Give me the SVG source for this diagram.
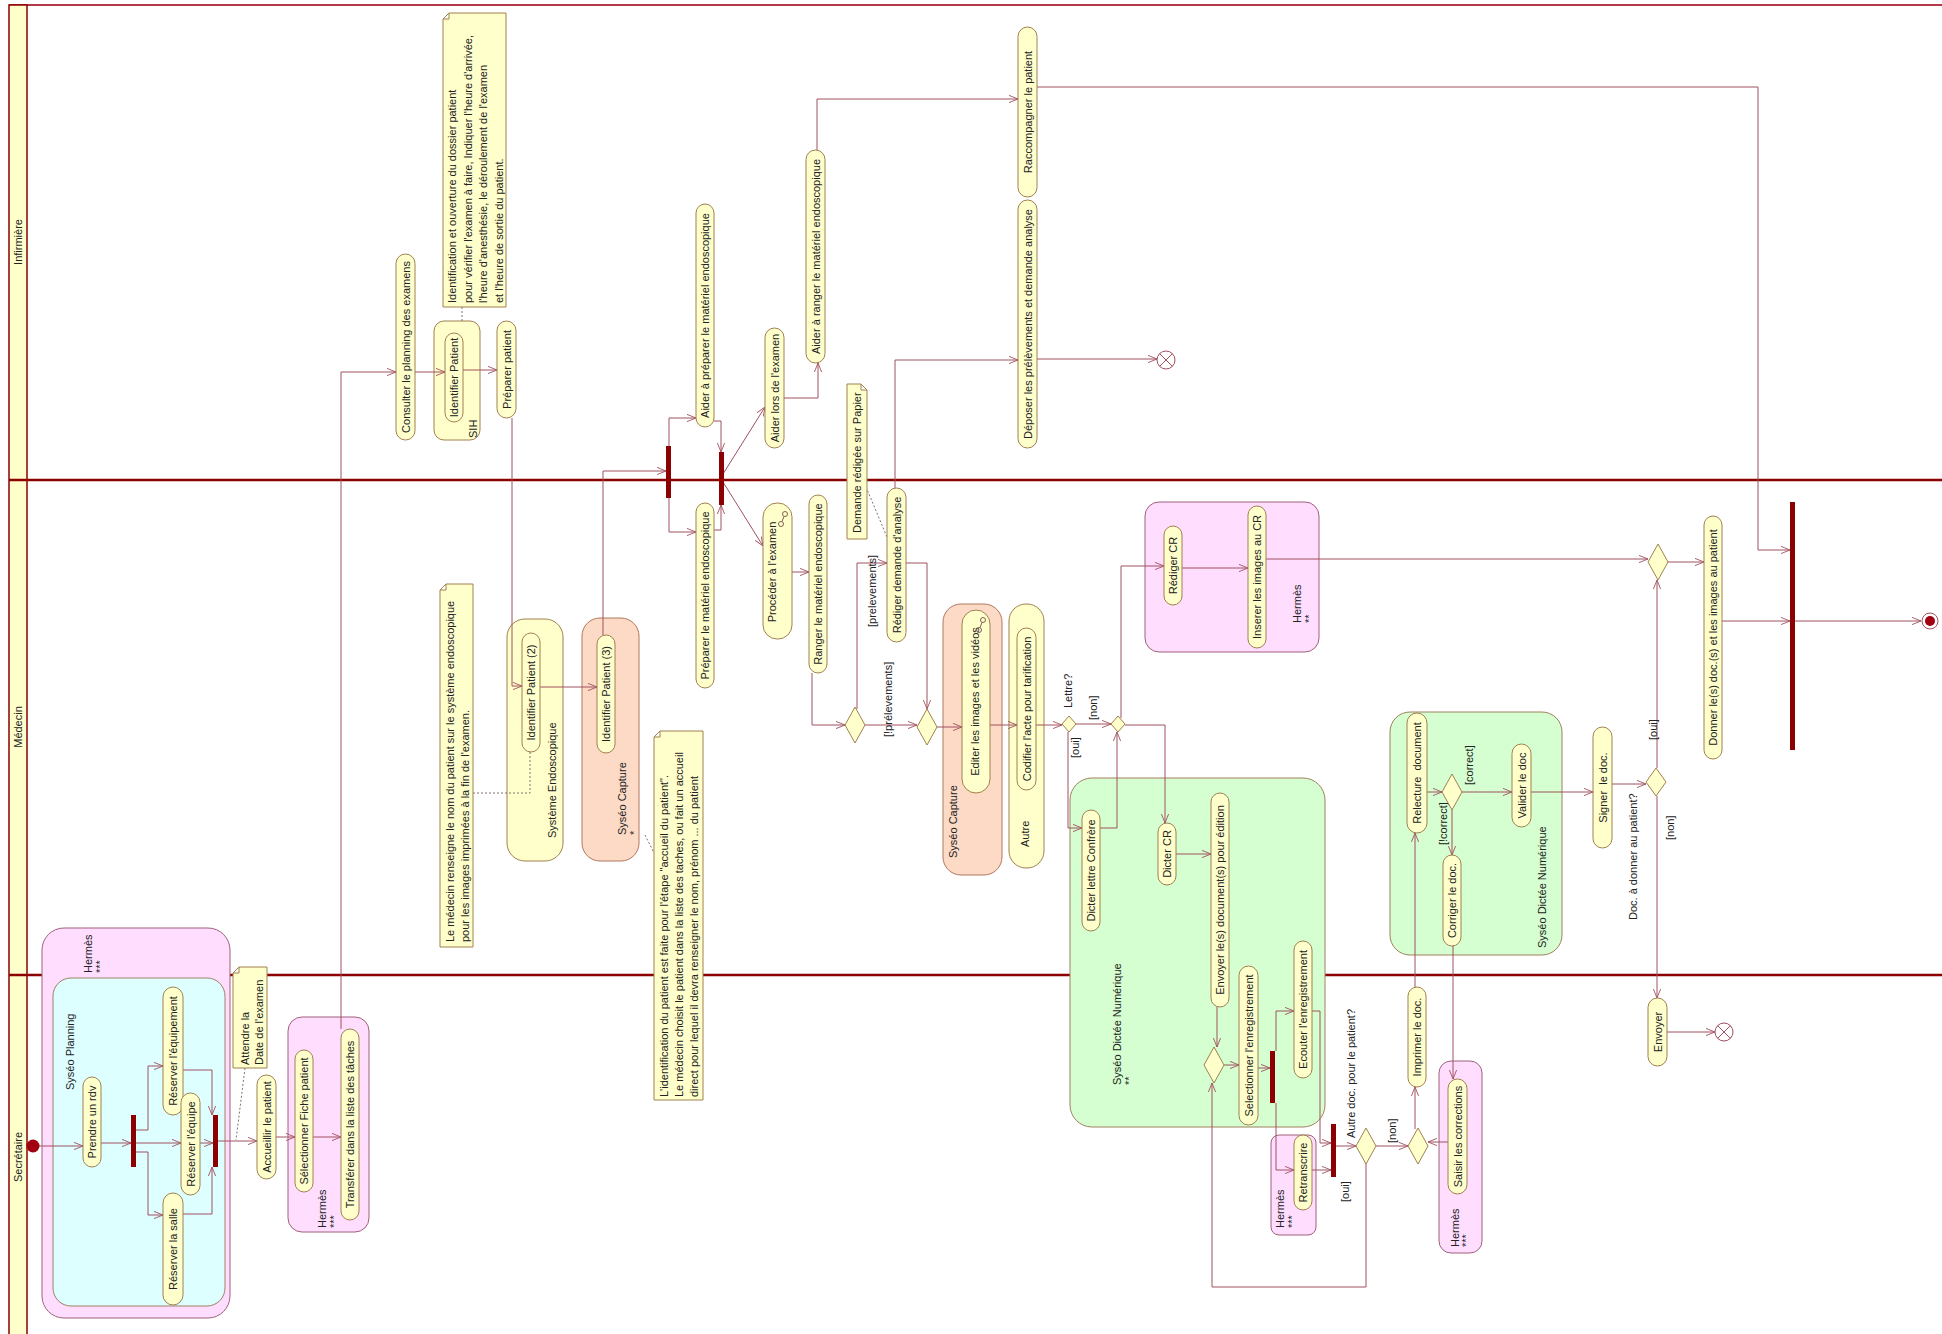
<svg xmlns="http://www.w3.org/2000/svg" width="1942" height="1334" viewBox="0 0 1942 1334">
<defs>
<style>
.t{font-family:"Liberation Sans",Arial,sans-serif;font-size:11px;fill:#222}
.tc{text-anchor:middle;dominant-baseline:central}
.ts{text-anchor:start;dominant-baseline:central}
.a{fill:#FFFFCC;stroke:#A08050;stroke-width:1}
.note{fill:#FFFFCC;stroke:#A08050;stroke-width:1}
.dia{fill:#FFFFCC;stroke:#A08050;stroke-width:1}
.bar{fill:#8B0000}
.c{fill:none;stroke:#A0505F;stroke-width:1;marker-end:url(#arr)}
.d{fill:none;stroke:#807070;stroke-width:1;stroke-dasharray:2 2}
.pink{fill:#FFDDFF;stroke:#A0607A;stroke-width:1}
.cyan{fill:#DDFFFF;stroke:#A08060;stroke-width:1}
.green{fill:#D5FFD0;stroke:#A08060;stroke-width:1}
.peach{fill:#FCDAC6;stroke:#B07860;stroke-width:1}
.yel{fill:#FFFFCC;stroke:#A08050;stroke-width:1}
.lane{stroke:#8B0000;stroke-width:2.5}
.ff{fill:#fff;stroke:#A0505F;stroke-width:1}
</style>
<marker id="arr" viewBox="0 0 10 10" refX="10" refY="5" markerWidth="9" markerHeight="9" orient="auto" markerUnits="userSpaceOnUse">
<path d="M0,1 L10,5 L0,9" fill="none" stroke="#A0505F" stroke-width="1"/>
</marker>
<g id="rake"><circle cx="0" cy="-5" r="2.5" fill="none" stroke="#806050" stroke-width="1"/><circle cx="-4" cy="5" r="2.5" fill="none" stroke="#806050" stroke-width="1"/><path d="M-1,-2.5 L-3,2.5" stroke="#806050" stroke-width="1"/></g>
</defs>

<!-- swimlanes -->
<g id="lanes">
<rect x="0" y="0" width="1942" height="1334" fill="#fff"/>
<line x1="9" y1="5" x2="1942" y2="5" stroke="#B03A4A" stroke-width="2"/>
<rect x="9" y="5" width="18" height="1335" fill="#FFFFCC" stroke="#8B0000" stroke-width="1.5"/>
<line class="lane" x1="9" y1="480" x2="1942" y2="480"/>
<line class="lane" x1="9" y1="975" x2="1942" y2="975"/>
<text class="t tc" transform="translate(18 242) rotate(-90)">Infirmière</text>
<text class="t tc" transform="translate(18 727) rotate(-90)">Médecin</text>
<text class="t tc" transform="translate(18 1157) rotate(-90)">Secrétaire</text>
</g>

<!-- containers -->
<g id="cont-hermes-sec"><rect class="pink" x="42" y="928" width="188" height="390" rx="22"/>
<text class="t ts" transform="translate(88 973) rotate(-90)">Hermès</text><text class="t ts" transform="translate(100 973) rotate(-90)">***</text></g>
<g id="cont-planning"><rect class="cyan" x="53" y="978" width="172" height="328" rx="18"/>
<text class="t ts" transform="translate(70 1090) rotate(-90)">Syséo Planning</text></g>
<g id="cont-hermes-sel"><rect class="pink" x="288" y="1017" width="81" height="215" rx="14"/>
<text class="t ts" transform="translate(322 1228) rotate(-90)">Hermès</text><text class="t ts" transform="translate(334 1228) rotate(-90)">***</text></g>
<g id="cont-sih"><rect class="yel" x="434" y="321" width="46" height="119" rx="10"/>
<text class="t ts" transform="translate(473 438) rotate(-90)">SIH</text></g>
<g id="cont-endo"><rect class="yel" x="507" y="619" width="56" height="242" rx="18"/>
<text class="t ts" transform="translate(552 838) rotate(-90)">Système Endoscopique</text></g>
<g id="cont-capture1"><rect class="peach" x="582" y="618" width="57" height="243" rx="18"/>
<text class="t ts" transform="translate(622 835) rotate(-90)">Syséo Capture</text><text class="t ts" transform="translate(634 835) rotate(-90)">*</text></g>
<g id="cont-capture2"><rect class="peach" x="943" y="604" width="59" height="271" rx="18"/>
<text class="t ts" transform="translate(953 858) rotate(-90)">Syséo Capture</text></g>
<g id="cont-autre"><rect class="yel" x="1009" y="604" width="35" height="264" rx="17"/>
<text class="t ts" transform="translate(1025 847) rotate(-90)">Autre</text></g>
<g id="cont-hermes-cr"><rect class="pink" x="1145" y="502" width="174" height="150" rx="14"/>
<text class="t ts" transform="translate(1297 623) rotate(-90)">Hermès</text><text class="t ts" transform="translate(1309 623) rotate(-90)">**</text></g>
<g id="cont-dictee1"><rect class="green" x="1070" y="778" width="255" height="349" rx="22"/>
<text class="t ts" transform="translate(1117 1085) rotate(-90)">Syséo Dictée Numérique</text><text class="t ts" transform="translate(1129 1085) rotate(-90)">**</text></g>
<g id="cont-hermes-retr"><rect class="pink" x="1271" y="1135" width="45" height="100" rx="8"/>
<text class="t ts" transform="translate(1280 1228) rotate(-90)">Hermès</text><text class="t ts" transform="translate(1292 1228) rotate(-90)">***</text></g>
<g id="cont-dictee2"><rect class="green" x="1390" y="712" width="172" height="243" rx="20"/>
<text class="t ts" transform="translate(1542 948) rotate(-90)">Syséo Dictée Numérique</text></g>
<g id="cont-hermes-saisir"><rect class="pink" x="1439" y="1061" width="43" height="192" rx="12"/>
<text class="t ts" transform="translate(1455 1247) rotate(-90)">Hermès</text><text class="t ts" transform="translate(1466 1247) rotate(-90)">***</text></g>

<!-- connectors -->
<g id="connectors">
<path class="c" d="M341,1029 V372 H396"/>
<path class="c" d="M415,372 H445"/>
<path class="c" d="M463,370 H497"/>
<path class="c" d="M512,418 V686 H522"/>
<path class="c" d="M540,687 H597"/>
<path class="c" d="M603,635 V471 H666"/>
<path class="c" d="M669,446 V418 H696"/>
<path class="c" d="M669,498 V532 H696"/>
<path class="c" d="M714,421 H721 V452"/>
<path class="c" d="M714,530 H721 V505"/>
<path class="c" d="M723,474 L765,407"/>
<path class="c" d="M723,482 L763,546"/>
<path class="c" d="M784,398 H818 V363"/>
<path class="c" d="M817,150 V99 H1018"/>
<path class="c" d="M792,572 H809"/>
<path class="c" d="M812,673 V725 H845"/>
<path class="c" d="M857,709 V563 H887"/>
<path class="c" d="M865,725 H917"/>
<path class="c" d="M906,563 H927 V709"/>
<path class="c" d="M895,488 V360 H1018"/>
<path class="c" d="M937,727 H962"/>
<path class="c" d="M1037,359 H1157"/>
<path class="c" d="M1037,87 H1758 V550 H1790"/>
<path class="c" d="M990,725 H1017"/>
<path class="c" d="M1036,725 H1062"/>
<path class="c" d="M1076,724 H1111"/>
<path class="c" d="M1068,732 V828 H1082"/>
<path class="c" d="M1100,828 H1117 V732"/>
<path class="c" d="M1121,718 V566 H1164"/>
<path class="c" d="M1125,725 H1165 V823"/>
<path class="c" d="M1182,568 H1248"/>
<path class="c" d="M1266,559 H1648"/>
<path class="c" d="M1176,854 H1211"/>
<path class="c" d="M1217,1007 V1047"/>
<path class="c" d="M1224,1065 H1239"/>
<path class="c" d="M1258,1068 H1270"/>
<path class="c" d="M1276,1051 V1011 H1294"/>
<path class="c" d="M1276,1103 V1170 H1294"/>
<path class="c" d="M1312,1011 H1320 V1143 H1331"/>
<path class="c" d="M1312,1170 H1331"/>
<path class="c" d="M1335,1146 H1356"/>
<path class="c" d="M1366,1164 V1287 H1212 V1083"/>
<path class="c" d="M1376,1146 H1408"/>
<path class="c" d="M1415,1129 V1087"/>
<path class="c" d="M1415,987 V833"/>
<path class="c" d="M1427,792 H1442"/>
<path class="c" d="M1462,792 H1512"/>
<path class="c" d="M1452,810 V855"/>
<path class="c" d="M1453,946 V1079"/>
<path class="c" d="M1448,1142 H1428"/>
<path class="c" d="M1531,792 H1593"/>
<path class="c" d="M1612,784 H1646"/>
<path class="c" d="M1657,768 V580"/>
<path class="c" d="M1657,796 V998"/>
<path class="c" d="M1667,1032 H1715"/>
<path class="c" d="M1668,562 H1704"/>
<path class="c" d="M1722,621 H1790"/>
<path class="c" d="M1795,621 H1921"/>
<path class="c" d="M39,1146 H83"/>
<path class="c" d="M101,1143 H131"/>
<path class="c" d="M136,1130 H148 V1066 H163"/>
<path class="c" d="M136,1143 H181"/>
<path class="c" d="M136,1152 H148 V1215 H163"/>
<path class="c" d="M183,1070 H212 V1115"/>
<path class="c" d="M200,1143 H213"/>
<path class="c" d="M183,1214 H212 V1167"/>
<path class="c" d="M218,1141 H257"/>
<path class="c" d="M276,1137 H295"/>
<path class="c" d="M313,1137 H341"/>
<path class="d" d="M462,307 V321"/>
<path class="d" d="M473,793 H530 V752"/>
<path class="d" d="M645,835 L654,853"/>
<path class="d" d="M866,487 L887,537"/>
<path class="d" d="M245,1068 L236,1140"/>
</g>

<!-- guard labels -->
<g id="guards">
<text class="t ts" transform="translate(872 627) rotate(-90)">[prelevements]</text>
<text class="t ts" transform="translate(888 737) rotate(-90)">[!prélevements]</text>
<text class="t ts" transform="translate(1068 708) rotate(-90)">Lettre?</text>
<text class="t ts" transform="translate(1093 720) rotate(-90)">[non]</text>
<text class="t ts" transform="translate(1075 758) rotate(-90)">[oui]</text>
<text class="t ts" transform="translate(1469 785) rotate(-90)">[correct]</text>
<text class="t ts" transform="translate(1443 845) rotate(-90)">[!correct]</text>
<text class="t ts" transform="translate(1653 740) rotate(-90)">[oui]</text>
<text class="t ts" transform="translate(1670 840) rotate(-90)">[non]</text>
<text class="t ts" transform="translate(1633 920) rotate(-90)">Doc. à donner au patient?</text>
<text class="t ts" transform="translate(1351 1138) rotate(-90)">Autre doc. pour le patient?</text>
<text class="t ts" transform="translate(1345 1202) rotate(-90)">[oui]</text>
<text class="t ts" transform="translate(1392 1143) rotate(-90)">[non]</text>
</g>

<!-- notes -->
<g id="note-dossier"><path class="note" d="M449,13 H506 V307 H443 V19 Z M443,19 L449,19 L449,13"/>
<text class="t ts" transform="translate(452 303) rotate(-90)"><tspan x="0" dy="0">Identification et ouverture du dossier patient</tspan><tspan x="0" dy="15.5">pour vérifier l'examen à faire, Indiquer l'heure d'arrivée,</tspan><tspan x="0" dy="15.5">l'heure d'anesthésie, le déroulement de l'examen</tspan><tspan x="0" dy="15.5">et l'heure de sortie du patient.</tspan></text></g>
<g id="note-papier"><path class="note" d="M847,384 H861 L867,390 V539 H847 Z M861,384 V390 H867"/>
<text class="t ts" transform="translate(857 533) rotate(-90)">Demande rédigée sur Papier</text></g>
<g id="note-medecin"><path class="note" d="M446,584 H473 V947 H440 V590 Z M440,590 L446,590 L446,584"/>
<text class="t ts" transform="translate(450 942) rotate(-90)"><tspan x="0" dy="0">Le médecin renseigne le nom du patient sur le système endoscopique</tspan><tspan x="0" dy="15">pour les images imprimées à la fin de l'examen.</tspan></text></g>
<g id="note-identification"><path class="note" d="M660,731 H703 V1100 H654 V737 Z M654,737 L660,737 L660,731"/>
<text class="t ts" transform="translate(664 1097) rotate(-90)"><tspan x="0" dy="0">L'identification du patient est faite pour l'étape "accueil du patient".</tspan><tspan x="0" dy="15">Le médecin choisit le patient dans la liste des taches, ou fait un accueil</tspan><tspan x="0" dy="15">direct pour lequel il devra renseigner le nom, prénom ... du patient</tspan></text></g>
<g id="note-attendre"><path class="note" d="M239,967 H267 V1068 H233 V973 Z M233,973 L239,973 L239,967"/>
<text class="t ts" transform="translate(245 1065) rotate(-90)"><tspan x="0" dy="0">Attendre la</tspan><tspan x="0" dy="13.5">Date de l'examen</tspan></text></g>

<!-- actions -->
<g id="n-consulter"><rect class="a" x="396" y="254" width="19" height="186" rx="9.5"/><text class="t tc" transform="translate(405.5 347) rotate(-90)">Consulter le planning des examens</text></g>
<g id="n-identifier-sih"><rect class="a" x="445" y="333" width="18" height="89" rx="9"/><text class="t tc" transform="translate(454 377.5) rotate(-90)">Identifier Patient</text></g>
<g id="n-preparer-patient"><rect class="a" x="497" y="321" width="19" height="97" rx="9.5"/><text class="t tc" transform="translate(506.5 369.5) rotate(-90)">Préparer patient</text></g>
<g id="n-aider-preparer"><rect class="a" x="696" y="204" width="18" height="223" rx="9"/><text class="t tc" transform="translate(705 315.5) rotate(-90)">Aider à préparer le matériel endoscopique</text></g>
<g id="n-aider-lors"><rect class="a" x="765" y="328" width="19" height="120" rx="9.5"/><text class="t tc" transform="translate(774.5 388) rotate(-90)">Aider lors de l'examen</text></g>
<g id="n-aider-ranger"><rect class="a" x="806" y="150" width="19" height="213" rx="9.5"/><text class="t tc" transform="translate(815.5 256.5) rotate(-90)">Aider à ranger le matériel endoscopique</text></g>
<g id="n-raccompagner"><rect class="a" x="1018" y="27" width="19" height="170" rx="9.5"/><text class="t tc" transform="translate(1027.5 112) rotate(-90)">Raccompagner le patient</text></g>
<g id="n-deposer"><rect class="a" x="1018" y="200" width="19" height="248" rx="9.5"/><text class="t tc" transform="translate(1027.5 324) rotate(-90)">Déposer les prélèvements et demande analyse</text></g>
<g id="n-identifier2"><rect class="a" x="522" y="633" width="18" height="119" rx="9"/><text class="t tc" transform="translate(531 692.5) rotate(-90)">Identifier Patient (2)</text></g>
<g id="n-identifier3"><rect class="a" x="597" y="635" width="18" height="118" rx="9"/><text class="t tc" transform="translate(606 694) rotate(-90)">Identifier Patient (3)</text></g>
<g id="n-preparer-materiel"><rect class="a" x="696" y="503" width="18" height="185" rx="9"/><text class="t tc" transform="translate(705 595.5) rotate(-90)">Préparer le matériel endoscopique</text></g>
<g id="n-proceder"><rect class="a" x="763" y="503" width="29" height="136" rx="14"/><text class="t tc" transform="translate(772 572) rotate(-90)">Procéder à l'examen</text><use href="#rake" x="785" y="519"/></g>
<g id="n-ranger"><rect class="a" x="809" y="495" width="18" height="178" rx="9"/><text class="t tc" transform="translate(818 584) rotate(-90)">Ranger le matériel endoscopique</text></g>
<g id="n-rediger-demande"><rect class="a" x="887" y="488" width="19" height="154" rx="9.5"/><text class="t tc" transform="translate(896.5 565) rotate(-90)">Rédiger demande d'analyse</text></g>
<g id="n-editer"><rect class="a" x="962" y="610" width="28" height="183" rx="14"/><text class="t tc" transform="translate(975 701.5) rotate(-90)">Editer les images et les vidéos</text><use href="#rake" x="983" y="625"/></g>
<g id="n-codifier"><rect class="a" x="1017" y="628" width="19" height="162" rx="9.5"/><text class="t tc" transform="translate(1026.5 709) rotate(-90)">Codifier l'acte pour tarification</text></g>
<g id="n-rediger-cr"><rect class="a" x="1164" y="526" width="18" height="79" rx="9"/><text class="t tc" transform="translate(1173 565.5) rotate(-90)">Rédiger CR</text></g>
<g id="n-inserer"><rect class="a" x="1248" y="506" width="18" height="142" rx="9"/><text class="t tc" transform="translate(1257 577) rotate(-90)">Inserer les images au CR</text></g>
<g id="n-dicter-lettre"><rect class="a" x="1082" y="810" width="18" height="121" rx="9"/><text class="t tc" transform="translate(1091 870.5) rotate(-90)">Dicter lettre Confrère</text></g>
<g id="n-dicter-cr"><rect class="a" x="1158" y="823" width="18" height="62" rx="9"/><text class="t tc" transform="translate(1167 854) rotate(-90)">Dicter CR</text></g>
<g id="n-envoyer-doc"><rect class="a" x="1211" y="793" width="18" height="214" rx="9"/><text class="t tc" transform="translate(1220 900) rotate(-90)">Envoyer le(s) document(s) pour édition</text></g>
<g id="n-selectionner"><rect class="a" x="1239" y="966" width="19" height="159" rx="9.5"/><text class="t tc" transform="translate(1248.5 1045.5) rotate(-90)">Selectionner l'enregistrement</text></g>
<g id="n-ecouter"><rect class="a" x="1294" y="941" width="18" height="137" rx="9"/><text class="t tc" transform="translate(1303 1009.5) rotate(-90)">Ecouter l'enregistrement</text></g>
<g id="n-retranscrire"><rect class="a" x="1294" y="1135" width="18" height="75" rx="9"/><text class="t tc" transform="translate(1303 1172.5) rotate(-90)">Retranscrire</text></g>
<g id="n-imprimer"><rect class="a" x="1408" y="987" width="18" height="100" rx="9"/><text class="t tc" transform="translate(1417 1037) rotate(-90)">Imprimer le doc.</text></g>
<g id="n-relecture"><rect class="a" x="1407" y="713" width="20" height="120" rx="10"/><text class="t tc" transform="translate(1417 773) rotate(-90)" style="white-space:pre">Relecture  document</text></g>
<g id="n-corriger"><rect class="a" x="1443" y="855" width="18" height="91" rx="9"/><text class="t tc" transform="translate(1452 900.5) rotate(-90)">Corriger le doc.</text></g>
<g id="n-valider"><rect class="a" x="1512" y="744" width="19" height="83" rx="9.5"/><text class="t tc" transform="translate(1521.5 785.5) rotate(-90)">Valider le doc</text></g>
<g id="n-signer"><rect class="a" x="1593" y="727" width="19" height="121" rx="9.5"/><text class="t tc" transform="translate(1602.5 787.5) rotate(-90)" style="white-space:pre">Signer  le doc.</text></g>
<g id="n-saisir"><rect class="a" x="1448" y="1079" width="19" height="115" rx="9.5"/><text class="t tc" transform="translate(1457.5 1136.5) rotate(-90)">Saisir les corrections</text></g>
<g id="n-envoyer"><rect class="a" x="1648" y="998" width="19" height="68" rx="9.5"/><text class="t tc" transform="translate(1657.5 1032) rotate(-90)">Envoyer</text></g>
<g id="n-donner"><rect class="a" x="1704" y="516" width="18" height="243" rx="9"/><text class="t tc" transform="translate(1713 637.5) rotate(-90)">Donner le(s) doc.(s) et les images au patient</text></g>
<g id="n-prendre"><rect class="a" x="83" y="1077" width="18" height="90" rx="9"/><text class="t tc" transform="translate(92 1122) rotate(-90)">Prendre un rdv</text></g>
<g id="n-res-equipement"><rect class="a" x="163" y="987" width="20" height="128" rx="10"/><text class="t tc" transform="translate(173 1051) rotate(-90)">Réserver l'équipement</text></g>
<g id="n-res-salle"><rect class="a" x="163" y="1193" width="20" height="112" rx="10"/><text class="t tc" transform="translate(173 1249) rotate(-90)">Réserver la salle</text></g>
<g id="n-res-equipe"><rect class="a" x="181" y="1093" width="19" height="102" rx="9.5"/><text class="t tc" transform="translate(190.5 1144) rotate(-90)">Réserver l'équipe</text></g>
<g id="n-accueillir"><rect class="a" x="257" y="1075" width="19" height="104" rx="9.5"/><text class="t tc" transform="translate(266.5 1127) rotate(-90)">Accueillir le patient</text></g>
<g id="n-sel-fiche"><rect class="a" x="295" y="1050" width="18" height="142" rx="9"/><text class="t tc" transform="translate(304 1121) rotate(-90)">Sélectionner Fiche patient</text></g>
<g id="n-transferer"><rect class="a" x="341" y="1029" width="18" height="191" rx="9"/><text class="t tc" transform="translate(350 1124.5) rotate(-90)">Transférer dans la liste des tâches</text></g>

<!-- bars -->
<g id="bar-fork1"><rect class="bar" x="666" y="446" width="5" height="52"/></g>
<g id="bar-join1"><rect class="bar" x="719" y="452" width="5" height="53"/></g>
<g id="bar-fork2"><rect class="bar" x="1270" y="1051" width="5" height="52"/></g>
<g id="bar-join2"><rect class="bar" x="1331" y="1124" width="5" height="53"/></g>
<g id="bar-final"><rect class="bar" x="1790" y="502" width="5" height="248"/></g>
<g id="bar-fork3"><rect class="bar" x="131" y="1115" width="5" height="52"/></g>
<g id="bar-join3"><rect class="bar" x="213" y="1115" width="5" height="52"/></g>

<!-- decisions -->
<g id="d-prelev1"><path class="dia" d="M855,707 L865,725 L855,743 L845,725 Z"/></g>
<g id="d-prelev2"><path class="dia" d="M927,709 L937,727 L927,745 L917,727 Z"/></g>
<g id="d-lettre"><path class="dia" d="M1069,716 L1076,724 L1069,732 L1062,724 Z"/></g>
<g id="d-merge-lettre"><path class="dia" d="M1118,716 L1125,724 L1118,732 L1111,724 Z"/></g>
<g id="d-merge-donner"><path class="dia" d="M1658,544 L1668,562 L1658,580 L1648,562 Z"/></g>
<g id="d-merge-select"><path class="dia" d="M1214,1047 L1224,1065 L1214,1083 L1204,1065 Z"/></g>
<g id="d-autre-doc"><path class="dia" d="M1366,1128 L1376,1146 L1366,1164 L1356,1146 Z"/></g>
<g id="d-merge-imprimer"><path class="dia" d="M1418,1128 L1428,1146 L1418,1164 L1408,1146 Z"/></g>
<g id="d-doc-patient"><path class="dia" d="M1656,768 L1666,782 L1656,796 L1646,782 Z"/></g>
<g id="d-correct"><path class="dia" d="M1452,774 L1462,792 L1452,810 L1442,792 Z"/></g>

<!-- start / ends -->
<g id="start"><circle cx="33" cy="1146" r="6.5" fill="#A00010"/></g>
<g id="flowfinal1"><circle class="ff" cx="1166" cy="360" r="9"/><path d="M1159.6,353.6 L1172.4,366.4 M1172.4,353.6 L1159.6,366.4" stroke="#A0505F" stroke-width="1"/></g>
<g id="flowfinal2"><circle class="ff" cx="1724" cy="1032" r="9"/><path d="M1717.6,1025.6 L1730.4,1038.4 M1730.4,1025.6 L1717.6,1038.4" stroke="#A0505F" stroke-width="1"/></g>
<g id="final"><circle cx="1930" cy="621" r="8" fill="#fff" stroke="#A0505F" stroke-width="1"/><circle cx="1930" cy="621" r="5" fill="#A00010"/></g>
</svg>
